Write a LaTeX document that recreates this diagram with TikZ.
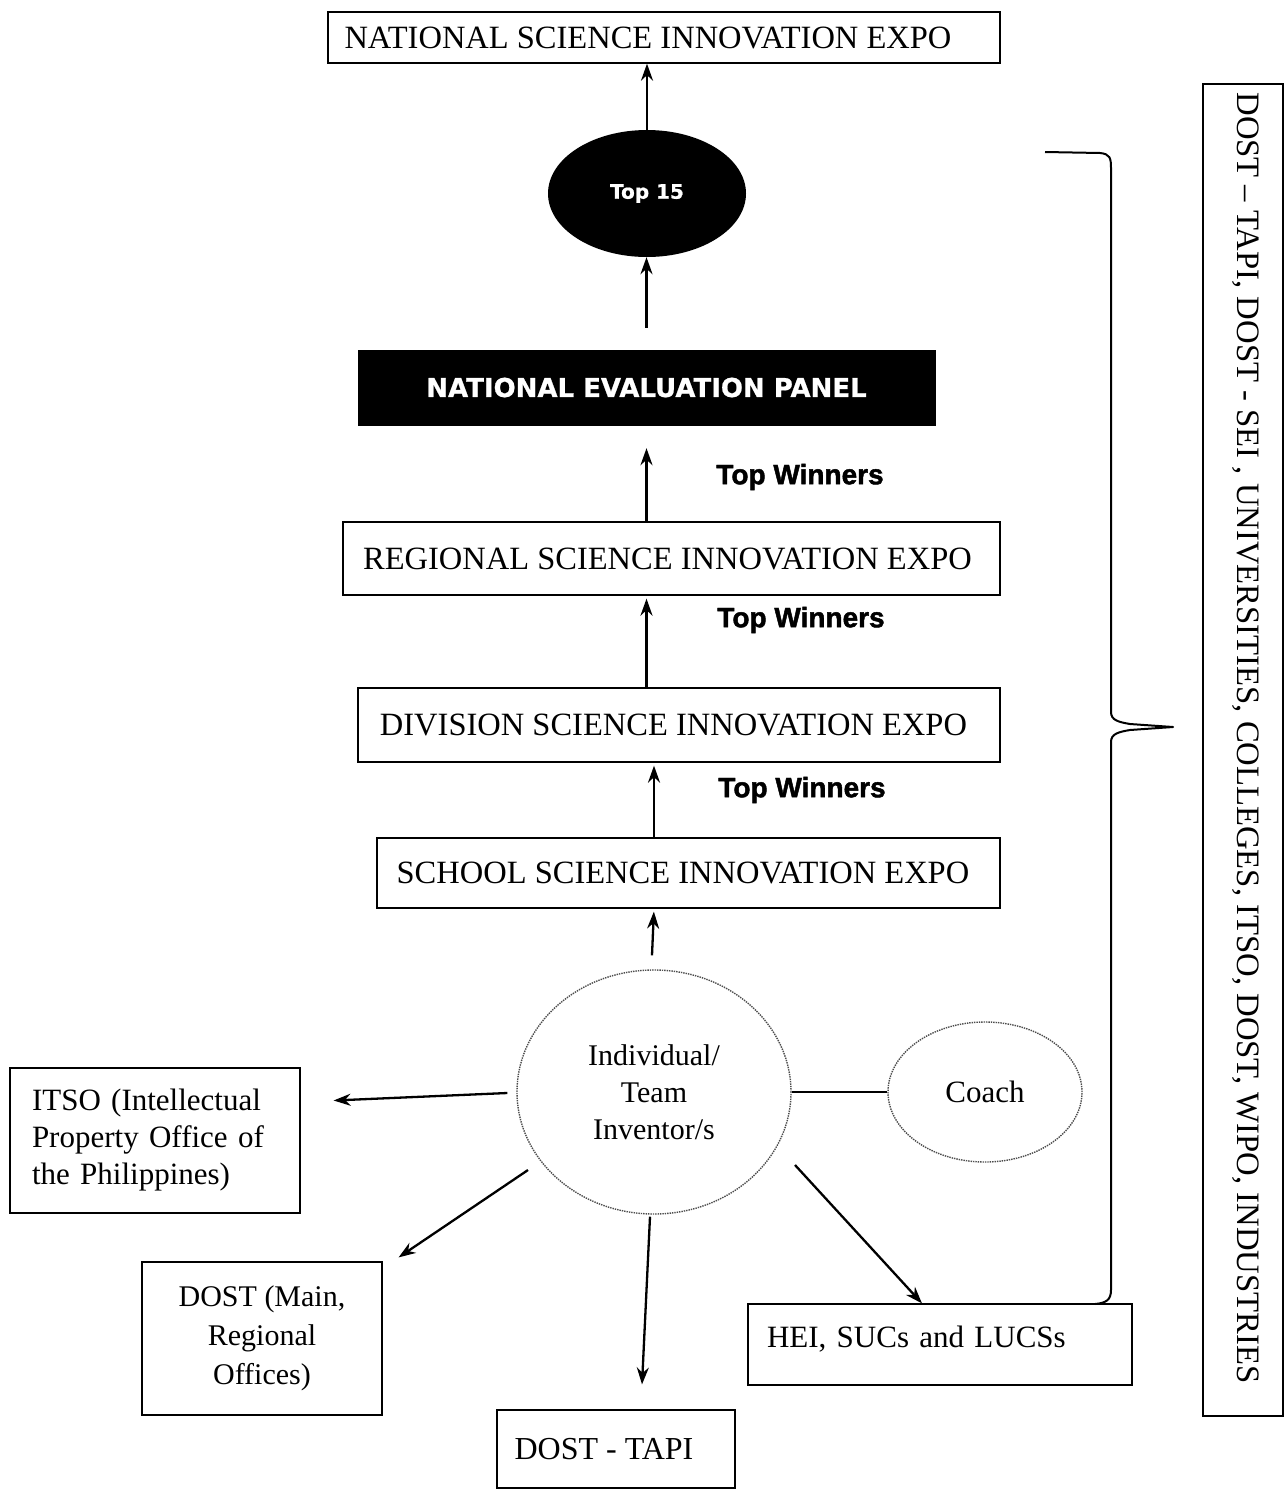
\documentclass[tikz,border=0pt]{standalone}
\usepackage{fontspec}
\setmainfont{Liberation Serif}
\newfontfamily\lsans[BoldFeatures={FakeBold=1.6}]{Liberation Sans}
\newfontfamily\dvs[BoldFeatures={FakeBold=0.8}]{DejaVu Sans}
\usetikzlibrary{arrows.meta,shapes.geometric}
\tikzset{
  box/.style={draw, line width=1.3pt, inner sep=0pt, font=\fontsize{32.5}{36}\selectfont},
  blackbox/.style={draw, fill=black, text=white, inner sep=0pt, font=\dvs\bfseries\fontsize{26}{28}\selectfont},
  smallbox/.style={draw, line width=1.2pt, inner sep=0pt, font=\fontsize{31}{37}\selectfont},
  dotell/.style={ellipse, draw=black!70, densely dotted, line width=1.4pt, inner sep=0pt, font=\fontsize{30}{37}\selectfont},
  arr/.style={-{Stealth[length=17pt,width=12pt]}, line width=2.3pt},
  winners/.style={font=\lsans\bfseries\fontsize{28}{30}\selectfont, inner sep=0pt},
}
\begin{document}
\begin{tikzpicture}[x=1pt,y=-1pt]
\useasboundingbox (0,0) rectangle (1287,1502);

% main column
\node[box, minimum width=672pt, minimum height=51pt] (topbox) at (664,37.5) {\hspace*{-32pt}NATIONAL SCIENCE INNOVATION EXPO};
\node[ellipse, fill=black, text=white, minimum width=198pt, minimum height=127pt, inner sep=0pt,
      font=\dvs\bfseries\fontsize{20}{22}\selectfont] (top15) at (647,193.5) {Top 15};
\node[blackbox, minimum width=577pt, minimum height=75pt] (panel) at (646.5,387.5) {NATIONAL EVALUATION PANEL};
\node[box, minimum width=657pt, minimum height=73pt] (regional) at (671.5,558.5) {\hspace*{-8pt}REGIONAL SCIENCE INNOVATION EXPO};
\node[box, minimum width=642pt, minimum height=74pt] (division) at (679,725) {\hspace*{-11pt}DIVISION SCIENCE INNOVATION EXPO};
\node[box, minimum width=623pt, minimum height=70pt] (school) at (688.5,873) {\hspace*{-11pt}SCHOOL SCIENCE INNOVATION EXPO};

\node[winners] (tw1) at (800,477) {Top Winners};
\node[winners] (tw2) at (801,620) {Top Winners};
\node[winners] (tw3) at (802,790) {Top Winners};

% bottom part
\node[dotell, minimum width=274pt, minimum height=244pt, align=center] (circ) at (654,1092) {Individual/\\Team\\Inventor/s};
\node[dotell, minimum width=194pt, minimum height=140pt, font=\fontsize{31}{37}\selectfont] (coach) at (985,1092) {Coach};

\node[smallbox, minimum width=290pt, minimum height=145pt, text width=246pt, inner xsep=22pt, align=left] (itso) at (155,1140.5)
  {ITSO (Intellectual\\Property Office of\\the Philippines)};
\node[smallbox, minimum width=240pt, minimum height=153pt, align=center, font=\fontsize{30}{39}\selectfont] (dostm) at (262,1338.5)
  {DOST (Main,\\Regional\\Offices)};
\node[smallbox, minimum width=238pt, minimum height=78pt, font=\fontsize{32}{37}\selectfont] (tapi) at (616,1449) {\hspace*{-24pt}DOST - TAPI};
\node[smallbox, minimum width=384pt, minimum height=81pt, text width=346pt, inner xsep=19pt, align=left] (hei) at (940,1344.5)
  {HEI, SUCs and LUCSs\\[-22pt]\mbox{}};

% right box
\node[draw, line width=1.3pt, minimum width=80pt, minimum height=1332pt, inner sep=0pt] (rbox) at (1243,750) {};
\node[rotate=-90, inner sep=0pt, font=\fontsize{32.7}{36}\selectfont] (rtext) at (1246,738)
  {DOST -- TAPI, DOST - SEI , UNIVERSITIES, COLLEGES, ITSO, DOST, WIPO, INDUSTRIES};

% arrows of main column
\draw[arr] (top15.north) -- (top15.north |- topbox.south);
\draw[arr, shorten <=22pt] (panel.north) -- (panel.north |- top15.south);
\draw[arr, shorten >=23pt] (regional.north -| panel.south) -- (panel.south);
\draw[arr, shorten >=3pt] (division.north -| panel.south) -- (regional.south -| panel.south);
\draw[arr, shorten >=3pt] (school.north -| circ.north) -- (division.south -| circ.north);
\draw[arr, shorten >=3pt] ([shift={(-2,-14)}]circ.north) -- (school.south -| circ.north);

% arrows of bottom part
\draw[line width=2.3pt] (coach.west) -- (circ.east);
\draw[arr] ([shift={(-9,1)}]circ.west) -- ([shift={(33,-40)}]itso.east);
\draw[arr] ([shift={(-126,78)}]circ.center) -- ([shift={(16,-4)}]dostm.north east);
\draw[arr] ([shift={(-4,2)}]circ.south) -- ([shift={(26,-25)}]tapi.north);
\draw[arr] ([shift={(141,73)}]circ.center) -- ([shift={(-18,0)}]hei.north);

% brace
\draw[line width=2pt, line join=round]
  (1045,152) -- (1100,153) .. controls (1110,154) and (1111,158) .. (1111,168)
  -- (1111,712) .. controls (1111,720) and (1118,722) .. (1130,724) -- (1173,727)
  -- (1130,730) .. controls (1118,732) and (1111,734) .. (1111,742)
  -- (1111,1290) .. controls (1111,1300) and (1106,1303) .. (1095,1304);
\end{tikzpicture}
\end{document}
